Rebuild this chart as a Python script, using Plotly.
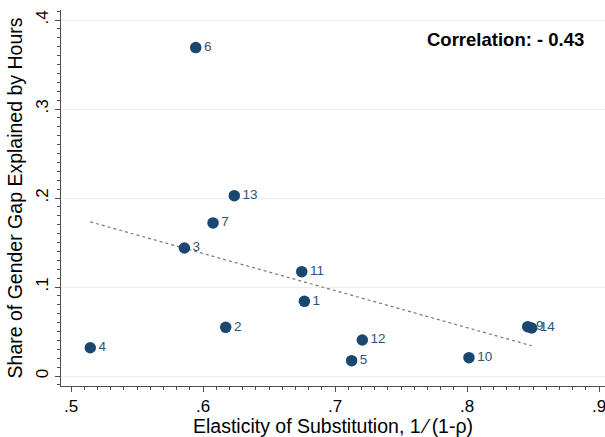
import numpy as np
import plotly.graph_objects as go

# Data
labels = ["1", "2", "3", "4", "5", "6", "7", "9", "10", "11", "12", "13", "14"]
elasticity = [0.6768, 0.6172, 0.5859, 0.5146, 0.7126, 0.5945, 0.6076, 0.8460, 0.8015, 0.6748, 0.7207, 0.6237, 0.8490]
share_hours = [0.0839, 0.0547, 0.1438, 0.0318, 0.0172, 0.3690, 0.1720, 0.0554, 0.0206, 0.1172, 0.0404, 0.2026, 0.0539]

x_ticks = [0.5, 0.6, 0.7, 0.8, 0.9]
x_tick_text = [".5", ".6", ".7", ".8", ".9"]
y_ticks = [0, 0.1, 0.2, 0.3, 0.4]
y_tick_text = ["0", ".1", ".2", ".3", ".4"]

# Linear fit
xa = np.array(elasticity)
ya = np.array(share_hours)
slope, intercept = np.polyfit(xa, ya, 1)
fit_x = np.array([xa.min(), xa.max()])
fit_y = intercept + slope * fit_x

navy = "#1a476f"
font_family = "Liberation Sans, Arial, sans-serif"

fig = go.Figure()
fig.add_trace(go.Scatter(
    x=fit_x, y=fit_y, mode="lines",
    line=dict(color="#777777", width=1.2, dash="dot"),
    hoverinfo="skip", showlegend=False,
))
fig.add_trace(go.Scatter(
    x=elasticity, y=share_hours, mode="markers+text",
    text=labels, textposition="middle right",
    textfont=dict(family=font_family, size=13.5, color="#2c5378"),
    marker=dict(color=navy, size=11.5, line=dict(width=0)),
    showlegend=False,
))

fig.add_annotation(
    x=1, xref="paper", xanchor="right", xshift=-19,
    y=1 - (39 - 10) / 376.0, yref="paper", yanchor="middle",
    text="<b>Correlation: - 0.43</b>", showarrow=False,
    font=dict(family=font_family, size=18.5, color="#000000"),
)

axis_common = dict(
    showline=True, linecolor="#4d4d4d", linewidth=1,
    ticks="outside", ticklen=5, tickcolor="#4d4d4d", tickwidth=1,
    tickfont=dict(family=font_family, size=17, color="#000000"),
    ticklabeloverflow="allow",
    zeroline=False,
    mirror=False,
)

fig.update_xaxes(
    range=[0.5 - 10 / 1320, 0.5 + 534 / 1320],
    tickvals=x_ticks, ticktext=x_tick_text,
    showgrid=False,
    minor=dict(dtick=0.01, tick0=0.5, ticks="outside", ticklen=3, tickcolor="#4d4d4d", showgrid=False),
    title=dict(text="Elasticity of Substitution, 1\u2009\u2044\u2009(1-\u03c1)",
               font=dict(family=font_family, size=19.5, color="#000000"), standoff=2),
    **axis_common,
)
fig.update_yaxes(
    range=[-10 / 890, 366 / 890],
    tickvals=y_ticks, ticktext=y_tick_text, tickangle=-90,
    showgrid=True, gridcolor="#e6eff1", gridwidth=1,
    minor=dict(dtick=0.01, tick0=0, ticks="outside", ticklen=3, tickcolor="#4d4d4d", showgrid=False),
    title=dict(text="Share of Gender Gap Explained by Hours",
               font=dict(family=font_family, size=19.5, color="#000000"), standoff=5),
    **axis_common,
)

fig.update_layout(
    width=605, height=437,
    margin=dict(l=61, r=0, t=10, b=51),
    paper_bgcolor="white", plot_bgcolor="white",
    font=dict(family=font_family),
)

fig.write_html("out.html")
